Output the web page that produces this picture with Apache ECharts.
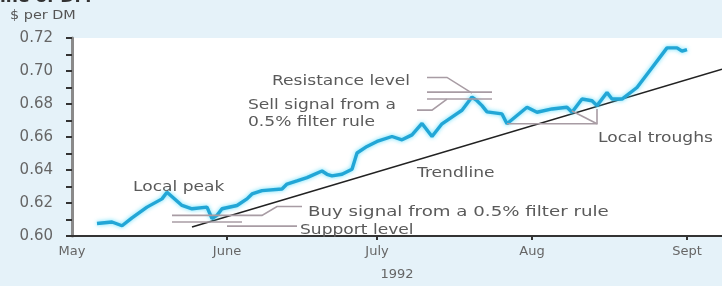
<!DOCTYPE html>
<html><head><meta charset="utf-8">
<script src="https://cdn.jsdelivr.net/npm/echarts@6/dist/echarts.min.js"></script>
<style>html,body{margin:0;padding:0;background:#e5f2f9;}#c{width:722px;height:286px;}</style>
</head><body><div id="c"></div>
<script>
// ---- data (day index counted from 1 May 1992) ----
const rateDays = [5,8,10,12,15,18,19,22,24,27,28,29,30,33,35,36,38,42,43,45,47,50,51,52,54,56,57,59,61,64,66,68,70,72,74,77,78,80,81,82,83,86,87,89,91,93,96,99,100,102,104,105,107,108,110,113,116,119,121,122,123];
const rateValues = [0.6076,0.6085,0.6062,0.611,0.6175,0.6225,0.6265,0.6185,0.6165,0.6175,0.6106,0.6125,0.6165,0.6185,0.6225,0.6255,0.6275,0.6285,0.6315,0.6334,0.6354,0.6394,0.6374,0.6364,0.6374,0.6404,0.6503,0.6543,0.6573,0.6603,0.6583,0.6613,0.6682,0.6603,0.668,0.6742,0.6762,0.6842,0.682,0.679,0.6752,0.674,0.668,0.673,0.678,0.675,0.677,0.678,0.675,0.683,0.682,0.679,0.687,0.683,0.683,0.690,0.702,0.714,0.714,0.712,0.713];
const trendDays = [24,130];
const trendValues = [0.6055,0.7011];
const monthLabels = {0:'May',31:'June',61:'July',92:'Aug',123:'Sept'};
const yTicks = [0.60,0.62,0.64,0.66,0.68,0.70,0.72];
const dayCount = 131;
const categories = Array.from({length:dayCount},(_,i)=>String(i));

// annotation guide lines in data coordinates [day, value]
const guides = [
  [[70.6,0.6961],[75,0.6961],[79.6,0.6866]],       // resistance leader
  [[70.6,0.6872],[83.6,0.6872]],                    // resistance level
  [[70.6,0.6830],[83.6,0.6830]],                    // sell signal level
  [[69.2,0.6763],[72,0.6763],[74.6,0.6830]],        // sell leader
  [[20,0.6125],[38,0.6125],[41,0.6179],[45.6,0.6179]], // buy signal
  [[20,0.6085],[34,0.6085]],                        // support level
  [[31,0.6060],[45,0.6060]],                        // support leader
  [[87,0.6680],[105,0.6680],[105,0.6770]],          // trough bracket
  [[99.6,0.6758],[104.6,0.6680]]
];
const notes = [
  {t:'Local peak', x:133, y:187},
  {t:'Resistance level', x:272, y:81},
  {t:'Sell signal from a', x:248, y:105},
  {t:'0.5% filter rule', x:248, y:122},
  {t:'Buy signal from a 0.5% filter rule', x:308, y:212, s:1.3},
  {t:'Support level', x:300, y:230},
  {t:'Trendline', x:417, y:173},
  {t:'Local troughs', x:598, y:138}
];

const chart = echarts.init(document.getElementById('c'), null, {renderer:'canvas'});
const option = {
  backgroundColor:'#e5f2f9',
  animation:false,
  grid:{left:72, right:0, top:38, bottom:45, show:true, backgroundColor:'#ffffff', borderWidth:0},
  xAxis:{
    type:'category', boundaryGap:false, data:categories,
    axisLine:{lineStyle:{color:'#333', width:2}},
    axisTick:{interval:(i)=>(i in monthLabels) && i>0, length:4, lineStyle:{color:'#333', width:2}},
    axisLabel:{interval:(i)=>(i in monthLabels), showMinLabel:true, formatter:(v,i)=>monthLabels[i]||'', color:'#666', fontSize:13, fontFamily:'DejaVu Sans', margin:9},
    name:'1992', nameLocation:'middle', nameGap:32,
    nameTextStyle:{color:'#666', fontSize:13, fontFamily:'DejaVu Sans'}
  },
  yAxis:{
    type:'value', min:0.60, max:0.72, interval:0.02,
    axisLine:{show:true, lineStyle:{color:'#8a8a8a', width:3}},
    axisTick:{show:true, length:6, lineStyle:{color:'#333', width:2}},
    minorTick:{show:true, splitNumber:2, length:6, lineStyle:{color:'#333', width:2}},
    splitLine:{show:false},
    axisLabel:{formatter:(v)=>v.toFixed(2), color:'#666', fontSize:15, fontFamily:'DejaVu Sans', margin:19}
  },
  series:[
    {type:'line', data:trendDays.map((d,i)=>[d,trendValues[i]]), symbol:'none', z:3,
     lineStyle:{color:'#222', width:1.6}},
    {type:'line', data:rateDays.map((d,i)=>[d,rateValues[i]]), symbol:'none', z:4,
     lineStyle:{color:'#22a6d6', width:3.4, shadowColor:'rgba(60,215,250,0.8)', shadowBlur:4}}
  ]
};
chart.setOption(option);

const g = [];
guides.forEach(pts=>{
  g.push({type:'polyline', shape:{points:pts.map(p=>chart.convertToPixel({gridIndex:0},p))}, z:10,
          style:{stroke:'#a89ca4', lineWidth:1.6, fill:null}});
});
notes.forEach(n=>{
  g.push({type:'text', x:n.x, y:n.y, scaleX:n.s||1.22, z:11,
          style:{text:n.t, fill:'#5a5a5a', font:'14px "DejaVu Sans"', textVerticalAlign:'middle'}});
});
g.push({type:'text', x:10, y:16, scaleX:1.2, style:{text:'$ per DM', fill:'#555', font:'12px "DejaVu Sans"', textVerticalAlign:'middle'}});
g.push({type:'text', x:0, y:-11, style:{text:'ine of DM', fill:'#333', font:'bold 17px "DejaVu Sans"', textVerticalAlign:'top'}});
chart.setOption({graphic:g});
</script></body></html>
